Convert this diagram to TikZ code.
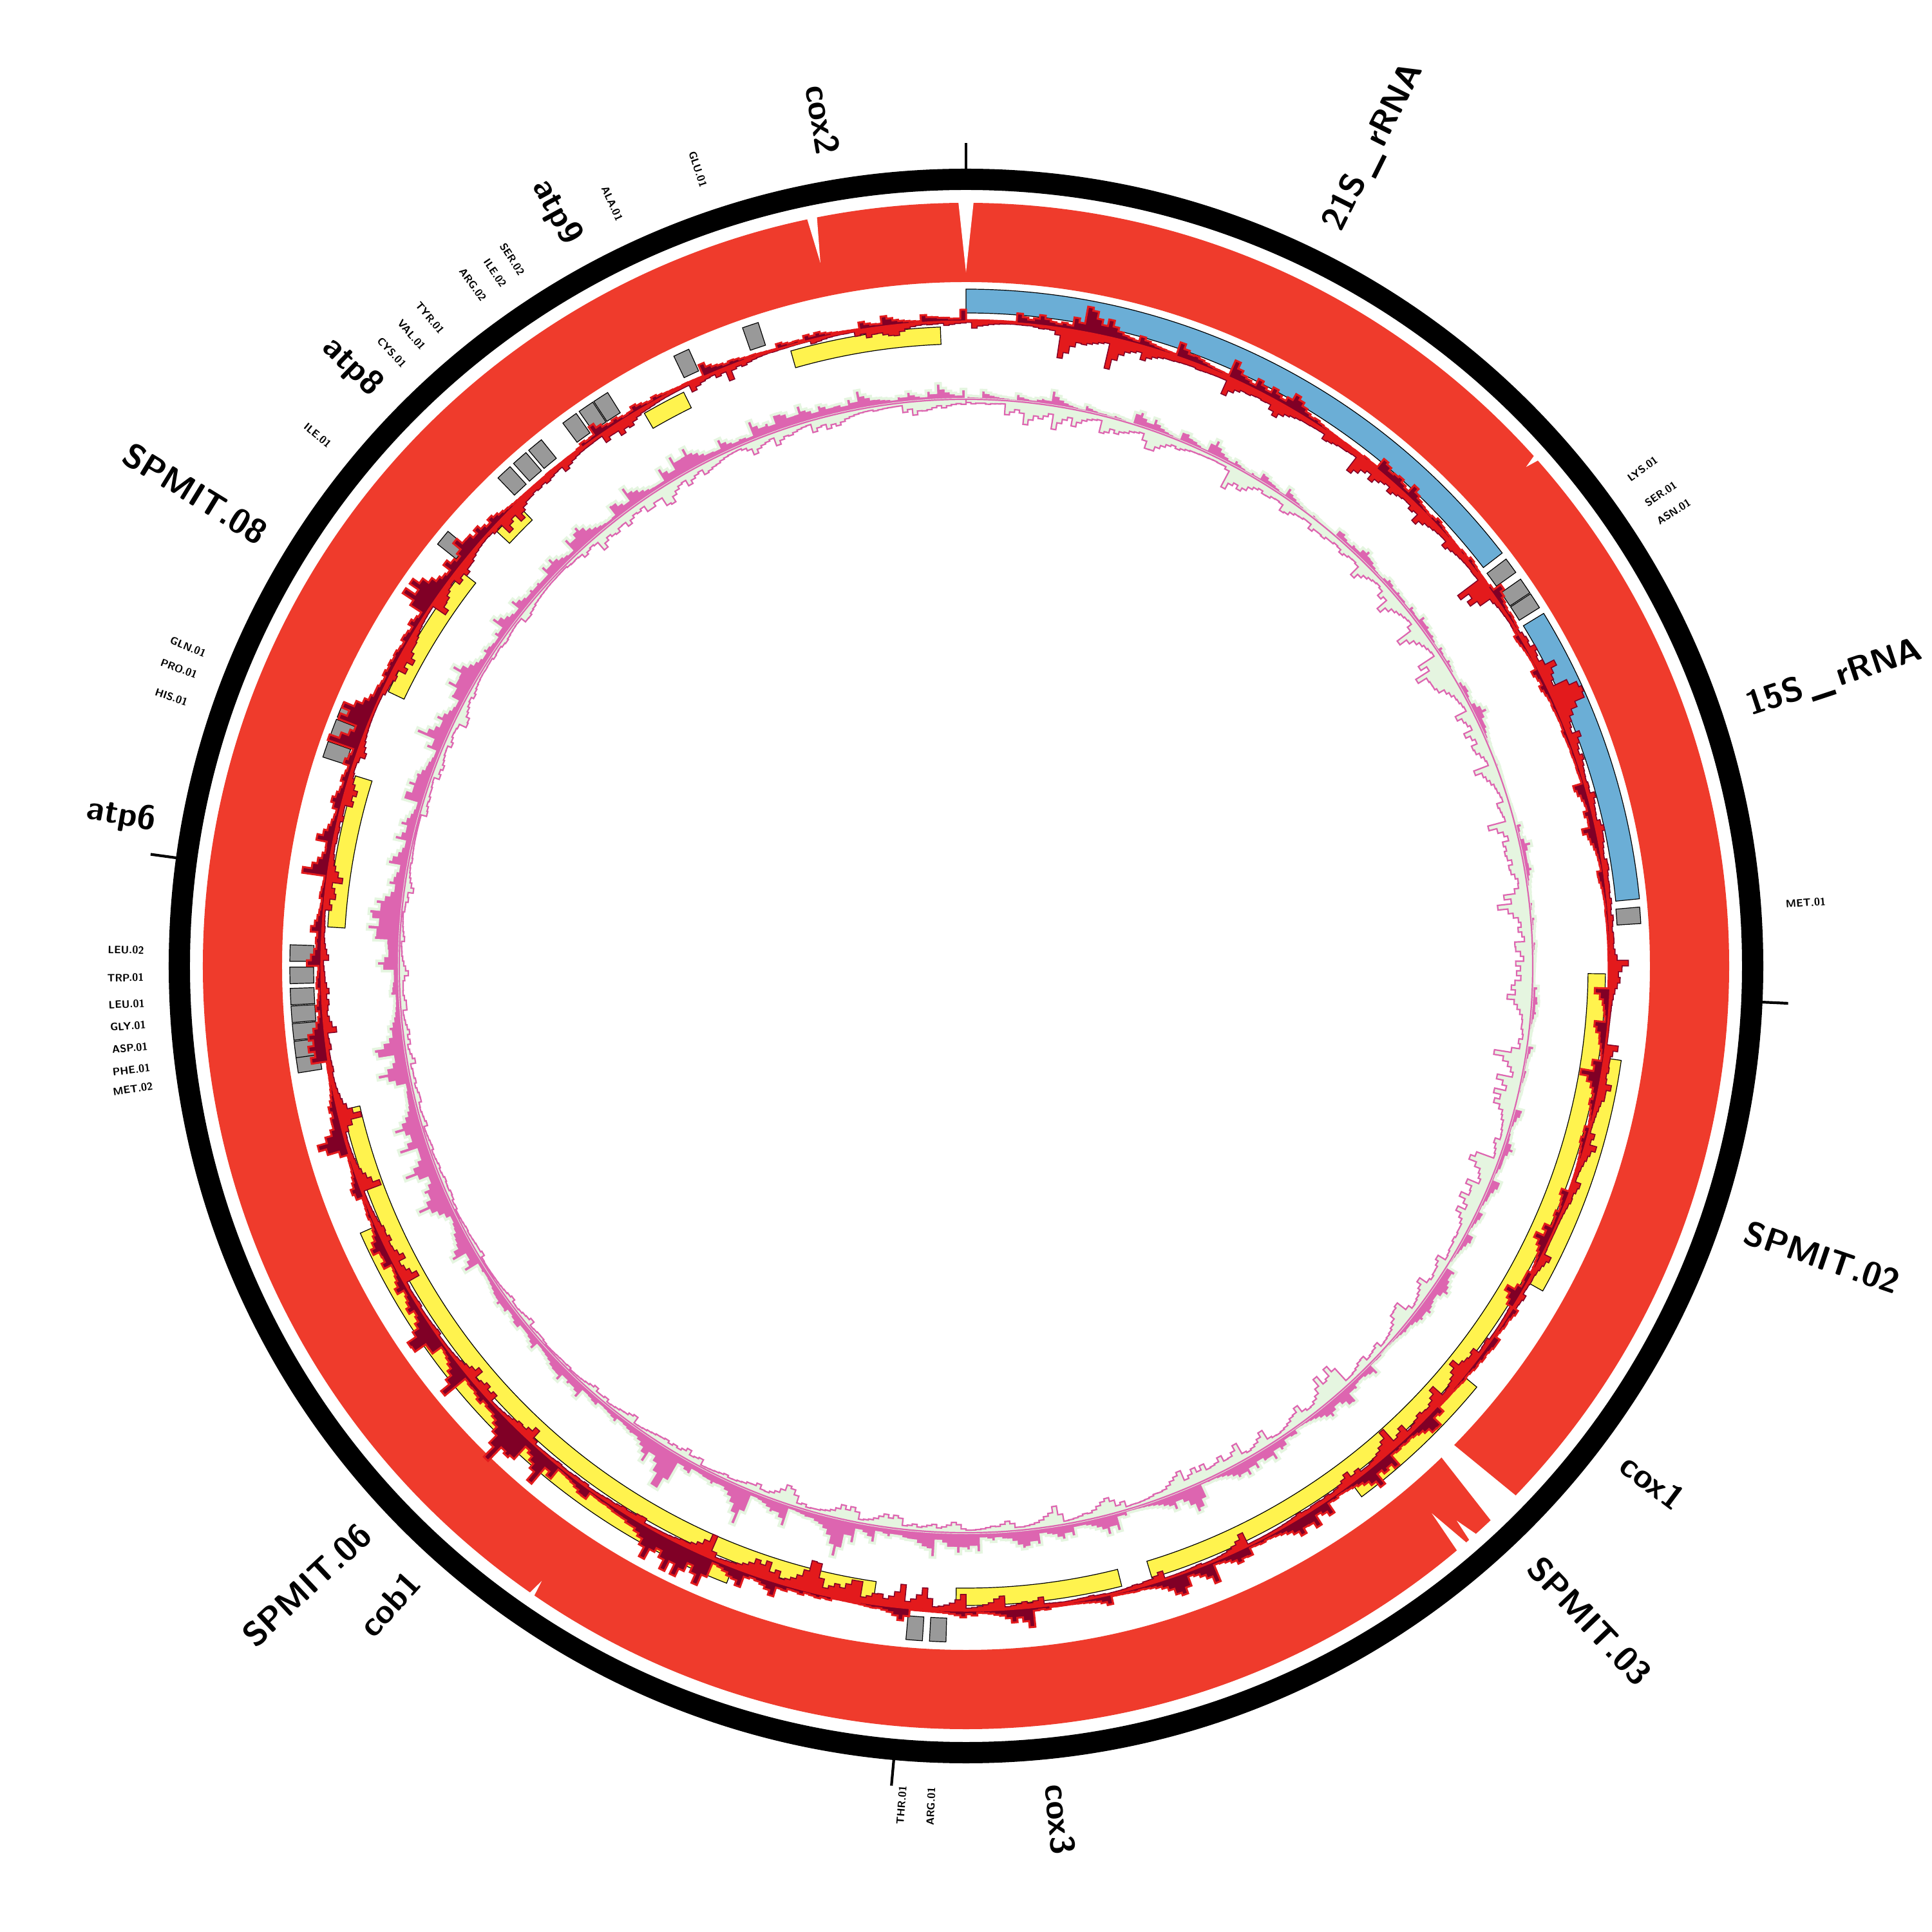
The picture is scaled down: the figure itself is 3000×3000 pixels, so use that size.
\documentclass[tikz,border=0pt]{standalone}
\definecolor{ringred}{RGB}{239,59,44}
\definecolor{rrnablue}{RGB}{107,174,214}
\definecolor{cdsyellow}{RGB}{255,243,78}
\definecolor{trnagray}{RGB}{153,153,153}
\definecolor{histred}{RGB}{227,26,28}
\definecolor{histdark}{RGB}{128,0,38}
\definecolor{gcpink}{RGB}{221,101,176}
\definecolor{gcgreen}{RGB}{229,245,224}
\newcommand{\usc}{\,\_\,}

\begin{document}
\begin{tikzpicture}[x=0.1mm,y=0.1mm,
  declare function={
    capone(\q)=min(1,\q);
    quiet(\p)=1-0.45*(\p>338)-0.45*(\p<6);
    redin(\p)=(30+30*(0.5+0.5*sin(6*\p))+60*(\p>8)*(\p<55))*quiet(\p);
    darkout(\p)=(32+38*(0.5+0.5*sin(5*\p+60))+12*(\p>160)*(\p<300))*quiet(\p);
    sg(\p)=1-2*(\p>58)*(\p<122);
    pkout(\p)=22+55*(0.5+0.5*cos(\p-250));
    grin(\p)=20+50*(0.5+0.5*cos(\p-70));
  }]
\tikzstyle{biglbl}=[font=\sffamily\bfseries\fontsize{15}{15}\selectfont,inner sep=0pt]
\tikzstyle{smalllbl}=[font=\sffamily\bfseries\fontsize{4.7}{4.7}\selectfont,inner sep=0pt]
\tikzstyle{box}=[draw=black,line width=0.12mm]
\path[use as bounding box,fill=white] (-1500,-1500) rectangle (1500,1500);

\fill[black,even odd rule] (0,0) circle[radius=1238] (0,0) circle[radius=1205];
\foreach \a in {0,92.6,185.2,277.8}
  \draw[line width=0.42mm] (90-\a:1236) -- (90-\a:1278);

\fill[ringred,even odd rule] (0,0) circle[radius=1185] (0,0) circle[radius=1062];
\fill[white] (90.6:1192) -- (90:1077) -- (89.4:1192) -- cycle;
\fill[white] (90-347.97:1192) -- (90-348.3:1115) -- (90-348.78:1192) -- cycle;
\fill[white] (90-48.0:1192) -- (90-48.3:1165) -- (90-48.6:1192) -- cycle;
\fill[white] (90-134.5:1055) -- (90-133.9:1192) -- (90-136.6:1192) -- (90-135.9:1055) -- cycle;
\fill[white] (90-138.0:1192) -- (90-138.5:1150) -- (90-138.8:1192) -- cycle;
\fill[white] (90-139.0:1192) -- (90-139.6:1116) -- (90-140.0:1192) -- cycle;
\fill[white] (90-214.4:1192) -- (90-214.6:1160) -- (90-214.9:1192) -- cycle;

\foreach \a/\b in {0/52.4,58.6/84.3}
  \filldraw[box,fill=rrnablue] (90-\a:1051) arc[start angle=90-\a,end angle=90-\b,radius=1051]
    -- (90-\b:1014) arc[start angle=90-\b,end angle=90-\a,radius=1014] -- cycle;
\foreach \c in {53.7,55.8,57.3,85.7,182.4,184.4,261.6,262.9,264.4,265.9,267.4,269.2,271.1,
    288.7,290.7,292.3,309.3,316.9,318.7,320.4,324.1,325.8,327.3,335.1,341.4}
  \filldraw[box,fill=trnagray] (90-\c+0.7:1050) arc[start angle=90-\c+0.7,end angle=90-\c-0.7,radius=1050]
    -- (90-\c-0.7:1013) arc[start angle=90-\c-0.7,end angle=90-\c+0.7,radius=1013] -- cycle;
\foreach \a/\b/\r/\s in {344.1/357.7/966/993,329.8/333.8/966/993,312.8/315.8/966/993,
    295.4/308.0/966/993,273.5/287.3/966/993,188.3/257.0/966/993,165.9/180.9/966/993,
    90.7/163.1/966/993,201.2/246.2/1000/1028,98.2/119.4/1000/1028,129.5/143.3/1000/1028}
  \filldraw[box,fill=cdsyellow] (90-\a:\s) arc[start angle=90-\a,end angle=90-\b,radius=\s]
    -- (90-\b:\r) arc[start angle=90-\b,end angle=90-\a,radius=\r] -- cycle;

\pgfmathsetseed{11}
\filldraw[fill=histred,draw=histdark,line width=0.15mm,even odd rule] (90:1001)
  \foreach \i [evaluate=\i as \t using \i*0.5,
      evaluate=\i as \v using 0.62*\vp+rnd^8,
      remember=\v as \vp (initially 0),
      evaluate=\i as \r using 1001-sg(\t)*redin(\t)*capone(0.05+0.55*\v)] in {0,...,719}
    { -- (90-\t:\r) arc[start angle=90-\t,delta angle=-0.5,radius=\r] } -- cycle
  (0,0) circle[radius=1001];
\filldraw[fill=histdark,draw=histred,line width=0.3mm,even odd rule] (90:1001)
  \foreach \i [evaluate=\i as \t using \i*0.5,
      evaluate=\i as \v using 0.62*\vp+rnd^8,
      remember=\v as \vp (initially 0),
      evaluate=\i as \r using 1001+sg(\t)*darkout(\t)*capone(0.05+0.55*\v)] in {0,...,719}
    { -- (90-\t:\r) arc[start angle=90-\t,delta angle=-0.5,radius=\r] } -- cycle
  (0,0) circle[radius=1001];

\filldraw[fill=gcpink,draw=gcgreen,line width=0.4mm,even odd rule] (90:880)
  \foreach \i [evaluate=\i as \t using \i*0.5,
      evaluate=\i as \v using 0.65*\vp+rnd^6,
      remember=\v as \vp (initially 0),
      evaluate=\i as \r using 880+pkout(\t)*capone(0.1+0.5*\v)] in {0,...,719}
    { -- (90-\t:\r) arc[start angle=90-\t,delta angle=-0.5,radius=\r] } -- cycle
  (0,0) circle[radius=880];
\filldraw[fill=gcgreen,draw=gcpink,line width=0.22mm,even odd rule] (90:880)
  \foreach \i [evaluate=\i as \t using \i*0.5,
      evaluate=\i as \v using 0.65*\vp+rnd^6,
      remember=\v as \vp (initially 0),
      evaluate=\i as \r using 880-grin(\t)*capone(0.08+0.5*\v)] in {0,...,719}
    { -- (90-\t:\r) arc[start angle=90-\t,delta angle=-0.5,radius=\r] } -- cycle
  (0,0) circle[radius=880];

\foreach \a/\txt [count=\i] in {26.5/21S\usc rRNA,71.7/15S\usc rRNA,108.8/SPMIT.02,126.9/cox1,
    136.4/SPMIT.03,173.7/cox3,222.1/cob1,226.8/SPMIT.06,280.1/atp6,301.5/SPMIT.08,
    314.3/atp8,331.5/atp9,350.4/cox2}{
  \ifdim\a pt<180pt \def\anc{west}\pgfmathsetmacro\rot{90-\a}\else\def\anc{east}\pgfmathsetmacro\rot{270-\a}\fi
  \node[biglbl,anchor=\anc,rotate=\rot] (gene\i) at (90-\a:1278) {\txt};
}
\foreach \a/\txt [count=\i] in {53.7/LYS.01,55.8/SER.01,57.3/ASN.01,85.7/MET.01,182.4/ARG.01,
    184.4/THR.01,261.6/MET.02,262.9/PHE.01,264.4/ASP.01,265.9/GLY.01,267.4/LEU.01,
    269.2/TRP.01,271.1/LEU.02,288.7/HIS.01,290.7/PRO.01,292.3/GLN.01,309.3/ILE.01,
    316.9/CYS.01,318.7/VAL.01,320.4/TYR.01,324.1/ARG.02,325.8/ILE.02,327.3/SER.02,
    335.1/ALA.01,341.4/GLU.01}{
  \ifdim\a pt<180pt \def\anc{west}\pgfmathsetmacro\rot{90-\a}\else\def\anc{east}\pgfmathsetmacro\rot{270-\a}\fi
  \node[smalllbl,anchor=\anc,rotate=\rot] (trna\i) at (90-\a:1276) {\txt};
}
\end{tikzpicture}
\end{document}
